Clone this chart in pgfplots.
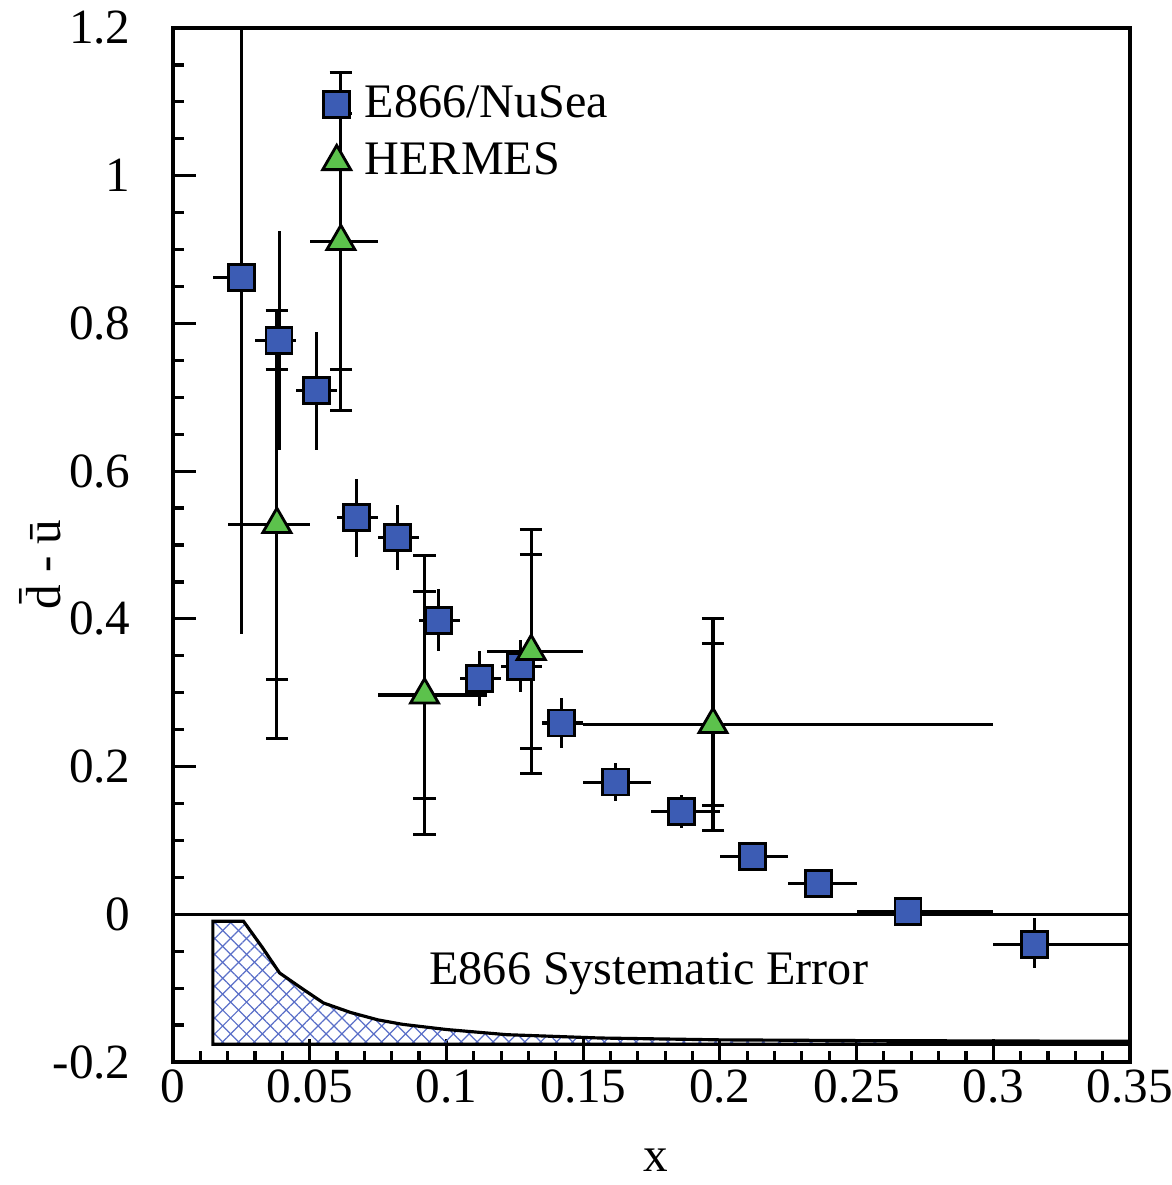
\documentclass[border=0pt]{standalone}
\usepackage{pgfplots}
\pgfplotsset{compat=1.18}
\usepackage{fontspec}
\setmainfont{Liberation Serif}
\usetikzlibrary{patterns.meta}
\definecolor{e866blue}{HTML}{3C5CB4}
\definecolor{hermesgreen}{HTML}{5CC24C}
\definecolor{hatchblue}{HTML}{5A6FC8}

\begin{document}
\begin{tikzpicture}
\path[use as bounding box] (-1.73,-1.23) rectangle (9.99,10.62);
\begin{axis}[
  at={(0,0)}, anchor=south west,
  scale only axis, width=9.57cm, height=10.34cm,
  xmin=0, xmax=0.35, ymin=-0.2, ymax=1.2,
  xtick={0,0.05,0.1,0.15,0.2,0.25,0.3,0.35},
  xticklabels={0,0.05,0.1,0.15,0.2,0.25,0.3,0.35},
  ytick={-0.2,0,0.2,0.4,0.6,0.8,1,1.2},
  yticklabels={-0.2,0,0.2,0.4,0.6,0.8,1,1.2},
  minor x tick num=4, minor y tick num=3,
  tick align=inside, xtick pos=bottom, ytick pos=left,
  major tick length=2.3mm, minor tick length=1.1mm,
  axis line style={line width=0.9pt},
  tick style={line width=0.9pt, black},
  tick label style={font=\fontsize{14}{16}\selectfont},
  yticklabel style={xshift=-3mm},
  xticklabel style={yshift=0.5mm},
  every axis x label/.style={at={(axis description cs:0.504,-0.095)}, anchor=center},
  every axis y label/.style={at={(axis description cs:-0.139,0.481)}, rotate=90, anchor=center},
  xlabel={\fontsize{14}{16}\selectfont x},
  ylabel={\fontsize{14}{16}\selectfont \=d - \=u},
  legend style={at={(axis cs:0.0545,1.1325)}, anchor=north west, draw=none, fill=none,
    font=\fontsize{13.7}{16}\selectfont, row sep=0.6mm, inner sep=0pt,
    /tikz/every odd column/.append style={column sep=0.7mm}},
  legend cell align=left,
  legend image code/.code={\draw[mark repeat=2,mark phase=2,#1] plot coordinates {(0cm,0cm)(0.13cm,0cm)(0.26cm,0cm)};},
]

% E866 systematic error band
\addplot[draw=none, forget plot, pattern={Lines[angle=45,distance=3.2pt,line width=0.35pt]}, pattern color=hatchblue]
coordinates {(0.0146,-0.176) (0.0146,-0.0095) (0.0258,-0.0095) (0.0327,-0.045) (0.039,-0.0795) (0.047,-0.100) (0.055,-0.120) (0.065,-0.133) (0.075,-0.143) (0.084,-0.149) (0.100,-0.156) (0.122,-0.163) (0.156,-0.1675) (0.200,-0.170) (0.25,-0.171) (0.35,-0.172) (0.35,-0.176)};
\addplot[draw=none, forget plot, pattern={Lines[angle=-45,distance=3.2pt,line width=0.35pt]}, pattern color=hatchblue]
coordinates {(0.0146,-0.176) (0.0146,-0.0095) (0.0258,-0.0095) (0.0327,-0.045) (0.039,-0.0795) (0.047,-0.100) (0.055,-0.120) (0.065,-0.133) (0.075,-0.143) (0.084,-0.149) (0.100,-0.156) (0.122,-0.163) (0.156,-0.1675) (0.200,-0.170) (0.25,-0.171) (0.35,-0.172) (0.35,-0.176)};
\addplot[black, line width=0.9pt, forget plot]
coordinates {(0.35,-0.176) (0.0146,-0.176) (0.0146,-0.0095) (0.0258,-0.0095) (0.0327,-0.045) (0.039,-0.0795) (0.047,-0.100) (0.055,-0.120) (0.065,-0.133) (0.075,-0.143) (0.084,-0.149) (0.100,-0.156) (0.122,-0.163) (0.156,-0.1675) (0.200,-0.170) (0.25,-0.171) (0.35,-0.172)};
\node[font=\fontsize{13.7}{16}\selectfont] at (axis cs:0.174,-0.081) {E866 Systematic Error};

% zero line
\addplot[black, line width=0.9pt, forget plot] coordinates {(0,0) (0.35,0)};

% E866/NuSea
\addplot[only marks, mark=square*, mark size=3.7pt,
  mark options={fill=e866blue, draw=black, line width=0.8pt, solid},
  error bars/.cd, x dir=both, x explicit, y dir=both, y explicit, error mark=none,
  error bar style={line width=0.9pt, black, solid}]
coordinates {
(0.0252,0.862) += (0.0048,0.482) -= (0.0106,0.482)
(0.0388,0.777) += (0.0062,0.148) -= (0.0088,0.148)
(0.0525,0.709) += (0.0075,0.080) -= (0.0075,0.080)
(0.0672,0.537) += (0.0078,0.053) -= (0.0072,0.053)
(0.0821,0.510) += (0.0079,0.044) -= (0.0071,0.044)
(0.0970,0.398) += (0.0080,0.042) -= (0.0070,0.042)
(0.1120,0.319) += (0.0080,0.037) -= (0.0070,0.037)
(0.1270,0.336) += (0.0080,0.035) -= (0.0070,0.035)
(0.1420,0.259) += (0.0080,0.034) -= (0.0070,0.034)
(0.1617,0.179) += (0.0133,0.026) -= (0.0117,0.026)
(0.1860,0.139) += (0.0140,0.022) -= (0.0110,0.022)
(0.2118,0.0785) += (0.0132,0.020) -= (0.0118,0.020)
(0.2360,0.042) += (0.0140,0.019) -= (0.0110,0.019)
(0.2688,0.004) += (0.0312,0.019) -= (0.0188,0.019)
(0.3150,-0.041) += (0.0350,0.036) -= (0.0150,0.032)
};
\addlegendentry{E866/NuSea}

% HERMES: x bins
\addplot[only marks, mark=*, mark options={draw=none, fill=none}, forget plot,
  error bars/.cd, x dir=both, x explicit, error mark=none,
  error bar style={line width=0.9pt, black, solid}]
coordinates {
(0.0380,0.528) += (0.0120,0) -= (0.0180,0)
(0.0614,0.911) += (0.0136,0) -= (0.0114,0)
(0.0920,0.297) += (0.0227,0) -= (0.0170,0)
(0.1310,0.356) += (0.0190,0) -= (0.0163,0)
(0.1975,0.257) += (0.1025,0) -= (0.0475,0)
};
% HERMES: total errors
\addplot[only marks, mark=*, mark options={draw=none, fill=none}, forget plot,
  error bars/.cd, y dir=both, y explicit, error mark=-,
  error mark options={rotate=90, line width=0.9pt, draw=black, mark size=3.2pt, solid},
  error bar style={line width=0.9pt, black, solid}]
coordinates {
(0.0380,0.528) +- (0,0.290)
(0.0614,0.911) +- (0,0.229)
(0.0920,0.297) +- (0,0.189)
(0.1310,0.356) +- (0,0.165)
(0.1975,0.257) +- (0,0.143)
};
% HERMES: statistical errors
\addplot[only marks, mark=*, mark options={draw=none, fill=none}, forget plot,
  error bars/.cd, y dir=both, y explicit, error mark=-,
  error mark options={rotate=90, line width=0.9pt, draw=black, mark size=3.2pt, solid},
  error bar style={line width=0.9pt, black, solid}]
coordinates {
(0.0380,0.528) +- (0,0.210)
(0.0614,0.911) +- (0,0.173)
(0.0920,0.297) +- (0,0.140)
(0.1310,0.356) +- (0,0.131)
(0.1975,0.257) +- (0,0.110)
};
% HERMES markers
\addplot[only marks, mark=triangle*, mark size=4.6pt,
  mark options={fill=hermesgreen, draw=black, line width=0.8pt, solid}]
coordinates {(0.0380,0.528) (0.0614,0.911) (0.0920,0.297) (0.1310,0.356) (0.1975,0.257)};
\addlegendentry{HERMES}
\end{axis}
\end{tikzpicture}
\end{document}
